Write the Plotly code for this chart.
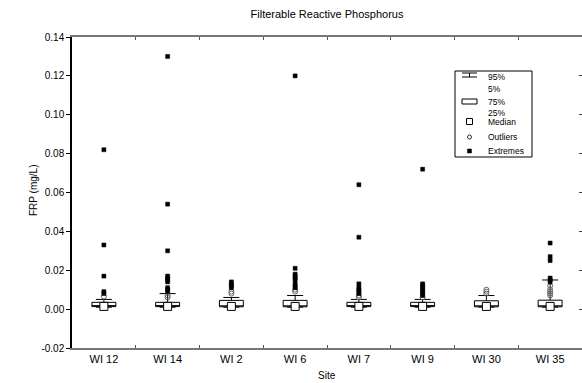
import plotly.graph_objects as go

sites = ["WI 12", "WI 14", "WI 2", "WI 6", "WI 7", "WI 9", "WI 30", "WI 35"]
q1 = [0.0013, 0.0013, 0.0012, 0.0012, 0.0013, 0.0013, 0.0012, 0.0012]
median = [0.0014, 0.0014, 0.0014, 0.0014, 0.0014, 0.0014, 0.0014, 0.0014]
q3 = [0.0035, 0.0035, 0.0045, 0.0045, 0.0035, 0.0035, 0.0043, 0.0046]
p5 = [0.001, 0.001, 0.001, 0.001, 0.001, 0.001, 0.001, 0.001]
p95 = [0.005, 0.008, 0.006, 0.007, 0.005, 0.005, 0.007, 0.015]

outliers = {
    "WI 12": [0.0065],
    "WI 14": [0.006, 0.007],
    "WI 2": [0.008, 0.009],
    "WI 6": [0.009, 0.010],
    "WI 7": [0.006, 0.007],
    "WI 9": [0.006],
    "WI 30": [0.008, 0.009, 0.010],
    "WI 35": [0.007, 0.008, 0.009, 0.010, 0.012],
}
extremes = {
    "WI 12": [0.082, 0.033, 0.017, 0.009, 0.008],
    "WI 14": [0.130, 0.054, 0.030, 0.017, 0.016, 0.015, 0.014, 0.011, 0.010, 0.009],
    "WI 2": [0.014, 0.013, 0.012, 0.011],
    "WI 6": [0.120, 0.021, 0.018, 0.017, 0.016, 0.015, 0.013, 0.012, 0.011],
    "WI 7": [0.064, 0.037, 0.013, 0.011, 0.010, 0.009, 0.008],
    "WI 9": [0.072, 0.013, 0.012, 0.011, 0.010, 0.009, 0.008, 0.007],
    "WI 30": [],
    "WI 35": [0.034, 0.027, 0.025, 0.016, 0.015, 0.014],
}
y_ticks = [-0.02, 0.00, 0.02, 0.04, 0.06, 0.08, 0.10, 0.12, 0.14]
y_tick_text = ["-0.02", "0.00", "0.02", "0.04", "0.06", "0.08", "0.10", "0.12", "0.14"]

W, H = 582, 383
L, R, T, B = 72, 0, 37, 35
PW, PH = W - L - R, H - T - B
FONT = "Liberation Sans, Arial, sans-serif"

fig = go.Figure()
fig.add_trace(go.Box(
    x=sites, q1=q1, median=median, q3=q3, lowerfence=p5, upperfence=p95,
    boxpoints=False, width=0.375, whiskerwidth=0.67,
    fillcolor="white", line=dict(color="black", width=1), showlegend=False,
    hoverinfo="skip"))

ox, oy, ex, ey = [], [], [], []
for s in sites:
    for v in outliers[s]:
        ox.append(s); oy.append(v)
    for v in extremes[s]:
        ex.append(s); ey.append(v)

fig.add_trace(go.Scatter(x=ox, y=oy, mode="markers", showlegend=False,
                         marker=dict(symbol="circle-open", size=5, color="#666",
                                     line=dict(width=1, color="#666"))))
fig.add_trace(go.Scatter(x=ex, y=ey, mode="markers", showlegend=False,
                         marker=dict(symbol="square", size=4, color="black",
                                     line=dict(width=0.5, color="black"))))
fig.add_trace(go.Scatter(x=sites, y=median, mode="markers", showlegend=False,
                         marker=dict(symbol="square", size=8, color="white",
                                     line=dict(width=1, color="black"))))
# invisible trace to anchor the right-side tick axis
fig.add_trace(go.Scatter(x=[sites[0]], y=[y_ticks[0]], yaxis="y2", mode="markers",
                         marker=dict(opacity=0), showlegend=False, hoverinfo="skip"))


def px(x):
    return (x - L) / PW


def py(y):
    return (H - B - y) / PH


shapes = []
annots = []
# legend frame
shapes.append(dict(type="rect", xref="paper", yref="paper", x0=px(455), x1=px(532),
                   y0=py(157), y1=py(71), line=dict(color="black", width=1),
                   fillcolor="white"))
# whisker symbol
shapes.append(dict(type="line", xref="paper", yref="paper", x0=px(462), x1=px(477),
                   y0=py(73), y1=py(73), line=dict(color="black", width=1)))
shapes.append(dict(type="line", xref="paper", yref="paper", x0=px(462), x1=px(477),
                   y0=py(77), y1=py(77), line=dict(color="black", width=1)))
shapes.append(dict(type="line", xref="paper", yref="paper", x0=px(469.5), x1=px(469.5),
                   y0=py(73), y1=py(77), line=dict(color="black", width=1)))
# box symbol
shapes.append(dict(type="rect", xref="paper", yref="paper", x0=px(462), x1=px(477),
                   y0=py(104), y1=py(99), line=dict(color="black", width=1)))
# median symbol
shapes.append(dict(type="rect", xref="paper", yref="paper", x0=px(466.5), x1=px(472.5),
                   y0=py(124.5), y1=py(118.5), line=dict(color="black", width=1)))
# outlier symbol
shapes.append(dict(type="circle", xref="paper", yref="paper", x0=px(467.5), x1=px(471.5),
                   y0=py(139), y1=py(135), line=dict(color="black", width=0.8)))
# extreme symbol
shapes.append(dict(type="rect", xref="paper", yref="paper", x0=px(467.5), x1=px(471.5),
                   y0=py(153), y1=py(149), line=dict(color="black", width=0.5),
                   fillcolor="black"))

for txt, yy in [("95%", 77), ("5%", 89), ("75%", 102), ("25%", 113),
                ("Median", 122), ("Outliers", 137), ("Extremes", 151)]:
    annots.append(dict(text=txt, xref="paper", yref="paper", x=px(486), y=py(yy),
                       xanchor="left", yanchor="middle", showarrow=False,
                       font=dict(size=8.5, color="black", family=FONT)))

annots.append(dict(text="Site", xref="paper", yref="paper", x=0.5, y=py(375),
                   xanchor="center", yanchor="middle", showarrow=False,
                   font=dict(size=10, color="black", family=FONT)))
annots.append(dict(text="FRP (mg/L)", xref="paper", yref="paper", x=px(33), y=py(190),
                   xanchor="center", yanchor="middle", showarrow=False, textangle=-90,
                   font=dict(size=10, color="black", family=FONT)))

fig.update_layout(
    width=W, height=H,
    margin=dict(l=L, r=R, t=T, b=B),
    paper_bgcolor="white", plot_bgcolor="white",
    font=dict(family=FONT, size=10, color="black"),
    title=dict(text="Filterable Reactive Phosphorus", x=px(327), xref="paper",
               y=1 - 14 / H, yanchor="middle", xanchor="center",
               font=dict(size=11, color="black", family=FONT)),
    shapes=shapes, annotations=annots,
    xaxis=dict(type="category", categoryorder="array", categoryarray=sites,
               tickson="boundaries", ticks="inside", ticklen=3, tickcolor="#555",
               showline=True, linecolor="#777", linewidth=1.5, mirror="ticks",
               showgrid=False, zeroline=False, tickfont=dict(size=11),
               range=[-0.5, len(sites) - 0.5]),
    yaxis=dict(range=[-0.02, 0.14], tickvals=y_ticks, ticktext=y_tick_text,
               ticks="outside", ticklen=4, tickcolor="black",
               showline=True, linecolor="black", linewidth=1.5,
               showgrid=False, zeroline=False, tickfont=dict(size=10)),
    yaxis2=dict(range=[-0.02, 0.14], tickvals=y_ticks, overlaying="y", side="right",
                showticklabels=False, ticks="inside", ticklen=3, tickcolor="#444",
                showline=False, showgrid=False, zeroline=False),
    showlegend=False,
)

fig.write_html("out.html", config={"displayModeBar": False},
               post_script="document.body.style.margin='0';")
